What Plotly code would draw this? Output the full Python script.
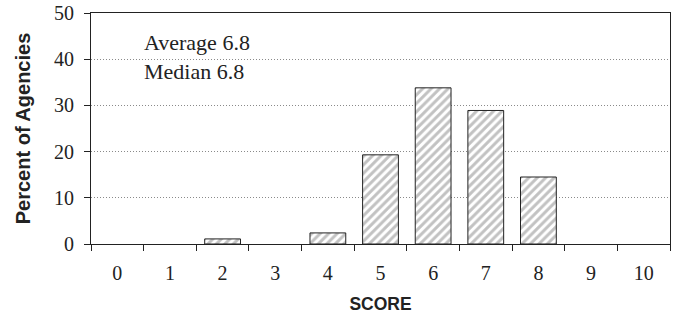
import plotly.graph_objs as go

scores = ["0", "1", "2", "3", "4", "5", "6", "7", "8", "9", "10"]
percent = [0, 0, 1.1, 0, 2.4, 19.3, 33.8, 28.9, 14.5, 0, 0]
stats_lines = ["Average 6.8", "Median 6.8"]

serif = "Liberation Serif"
sans = "Liberation Sans"

# no outline for empty bars
outline = [1 if v > 0 else 0 for v in percent]

fig = go.Figure()
fig.add_trace(
    go.Bar(
        x=scores,
        y=percent,
        marker=dict(
            color="white",
            line=dict(color="#222222", width=outline),
            pattern=dict(shape="/", fgcolor="#858585", bgcolor="white",
                         size=6, solidity=0.5),
        ),
        showlegend=False,
    )
)

fig.add_annotation(
    x=0.088, y=40.5, xref="paper", yref="y",
    text="<br>".join(stats_lines), showarrow=False,
    xanchor="left", yanchor="middle", align="left",
    font=dict(family=serif, size=22, color="#222222"),
)

fig.update_xaxes(
    type="category",
    tickson="boundaries",
    ticks="outside", ticklen=6, tickcolor="#222222",
    ticklabelstandoff=11,
    showline=True, linecolor="#222222", linewidth=1, mirror=True,
    showgrid=False, automargin=False,
    tickfont=dict(family=serif, size=20, color="#222222"),
    title=dict(text="<b>SCORE</b>", font=dict(family=sans, size=17.5, color="#222222"),
               standoff=14),
)
fig.update_yaxes(
    range=[0, 50], dtick=10,
    ticks="outside", ticklen=6, tickcolor="#222222",
    ticklabelstandoff=6, ticklabeloverflow="allow",
    showline=True, linecolor="#222222", linewidth=1, mirror=True,
    showgrid=True, gridcolor="#8a8a8a", griddash="1px,2px", gridwidth=1,
    zeroline=False, automargin=False,
    tickfont=dict(family=serif, size=20, color="#222222"),
    title=dict(text="<b>Percent of Agencies</b>",
               font=dict(family=sans, size=20, color="#222222"), standoff=18),
)

fig.update_layout(
    width=677, height=322,
    margin=dict(l=91, r=7, t=13, b=78),
    paper_bgcolor="white", plot_bgcolor="white",
    bargap=0.32,
)

# drop the default page margin so the figure fills the window
fig.write_html("out.html", config={"displayModeBar": False},
               post_script="document.body.style.margin='0';")
